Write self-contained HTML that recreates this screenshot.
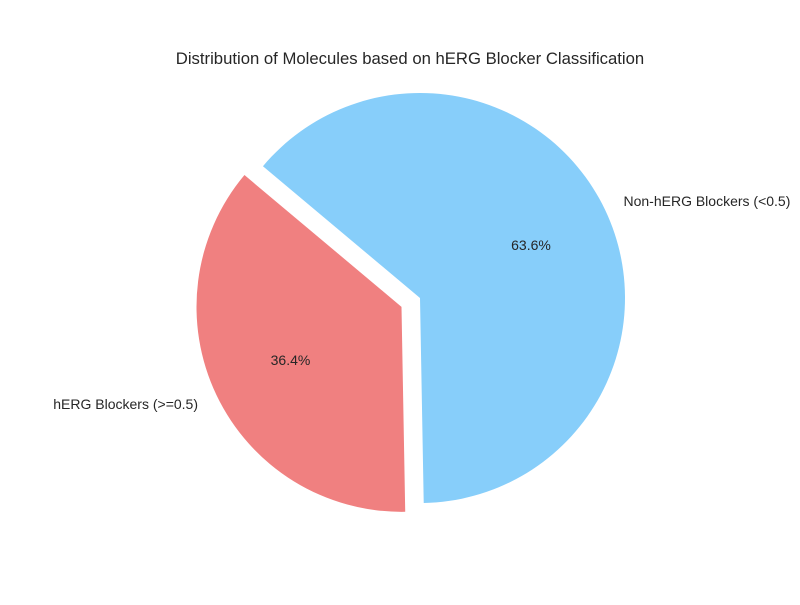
<!DOCTYPE html>
<html><head><meta charset="utf-8"><style>
body{margin:0;background:#fff;}
svg text{font-family:"Liberation Sans","DejaVu Sans",sans-serif;fill:#262626;}
</style></head><body>
<svg id="chart" width="800" height="600" viewBox="0 0 800 600" xmlns="http://www.w3.org/2000/svg">
<rect width="800" height="600" fill="#fff"/>
<text x="410" y="64" text-anchor="middle" font-size="16.7">Distribution of Molecules based on hERG Blocker Classification</text>
<g id="slices"></g>
</svg>
<script>
const categories = ["hERG Blockers (>=0.5)", "Non-hERG Blockers (<0.5)"];
const values = [36.4, 63.6];
const explode = [0.1, 0];
const colors = ["#F08080", "#87CEFA"];
const startAngle = 140;
const cx = 420, cy = 298, R = 205;
const g = document.getElementById('slices');
const NS = "http://www.w3.org/2000/svg";
const total = values.reduce((a,b)=>a+b,0);
let a0 = startAngle;
values.forEach((v,i)=>{
  const sweep = v/total*360;
  const a1 = a0 + sweep;
  const mid = (a0+a1)/2*Math.PI/180;
  const ox = cx + explode[i]*R*Math.cos(mid);
  const oy = cy - explode[i]*R*Math.sin(mid);
  const p = (a)=>[ox+R*Math.cos(a*Math.PI/180), oy-R*Math.sin(a*Math.PI/180)];
  const s = p(a0), e = p(a1);
  const large = sweep>180?1:0;
  const path = document.createElementNS(NS,'path');
  path.setAttribute('d',`M${ox},${oy} L${s[0]},${s[1]} A${R},${R} 0 ${large} 0 ${e[0]},${e[1]} Z`);
  path.setAttribute('fill',colors[i]);
  
  
  g.appendChild(path);
  const lx = ox + 1.1*R*Math.cos(mid), ly = oy - 1.1*R*Math.sin(mid);
  const lt = document.createElementNS(NS,'text');
  lt.setAttribute('x',lx); lt.setAttribute('y',ly+5);
  lt.setAttribute('font-size','14');
  lt.setAttribute('text-anchor', Math.cos(mid)<0?'end':'start');
  lt.textContent = categories[i];
  
  
  g.appendChild(lt);
  const px = ox + 0.6*R*Math.cos(mid), py = oy - 0.6*R*Math.sin(mid);
  const pt = document.createElementNS(NS,'text');
  pt.setAttribute('x',px); pt.setAttribute('y',py+5);
  pt.setAttribute('font-size','14');
  pt.setAttribute('text-anchor','middle');
  pt.textContent = (v/total*100).toFixed(1)+'%';
  
  
  g.appendChild(pt);
  a0 = a1;
});
</script>
</body></html>
